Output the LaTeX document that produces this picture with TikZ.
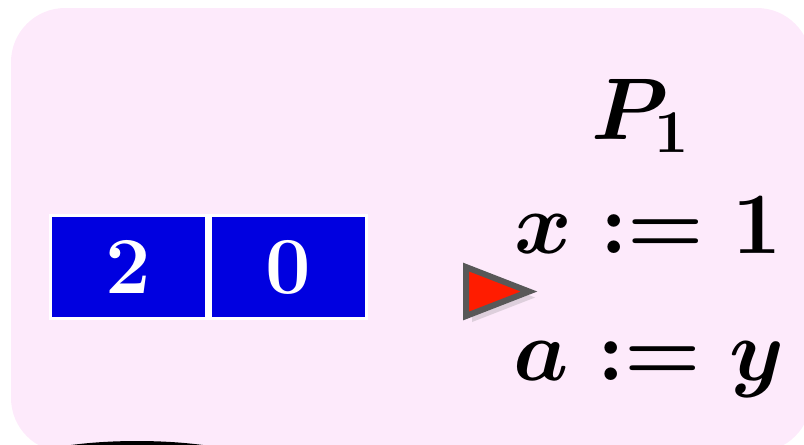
\documentclass[tikz,border=0pt]{standalone}
\usepackage{amsmath,amssymb}
\usepackage{tikz}
\usetikzlibrary{calc,positioning,shadows}
\definecolor{bgpink}{RGB}{253,234,251}
\definecolor{cellblue}{RGB}{0,0,224}
\definecolor{ptrred}{RGB}{255,28,0}
\definecolor{ptrgray}{RGB}{88,88,88}
\tikzset{
  cellbox/.style={fill=cellblue,draw=white,line width=0.9pt,minimum width=1.565cm,
    minimum height=1.03cm,inner sep=0pt,outer sep=0pt,text=white,
    font=\fontsize{23}{28}\selectfont\bfseries},
  stmtfont/.style={font=\fontsize{24}{29}\selectfont\boldmath,anchor=base,inner sep=0pt},
  ptrline/.style={draw=ptrgray,fill=ptrred,line width=1.7pt,line join=miter},
}
\newcommand{\regcell}[3]{\node[cellbox] (#1) at (#2,267) {#3};}

\begin{document}
\begin{tikzpicture}[x=0.01cm,y=-0.01cm]
        \useasboundingbox (0,0) rectangle (804,444);
        \begin{scope}
          \clip (0,0) rectangle (804,444);
          \fill[bgpink,rounded corners=0.54cm] (11,8) rectangle (811,452);
          \fill[black] (137,470) ellipse [x radius=1.3cm,y radius=0.29cm];
        \end{scope}
        % register cells
        \regcell{celltwo}{128.75}{2}\regcell{cellzero}{288.25}{0}
        % program counter
        \draw[ptrline,drop shadow={opacity=0.25,shadow xshift=0.06cm,shadow yshift=-0.06cm}]
          (466,267) -- (466,316) -- (529,291.5) -- cycle;
        \node[stmtfont] (proc) at (641,139) {$P_1$};
        \node[stmtfont] (asgx) at (648,253) {$x := 1$};
        \node[stmtfont] (asga) at (649,380) {$a := y$};
      \end{tikzpicture}
\end{document}
